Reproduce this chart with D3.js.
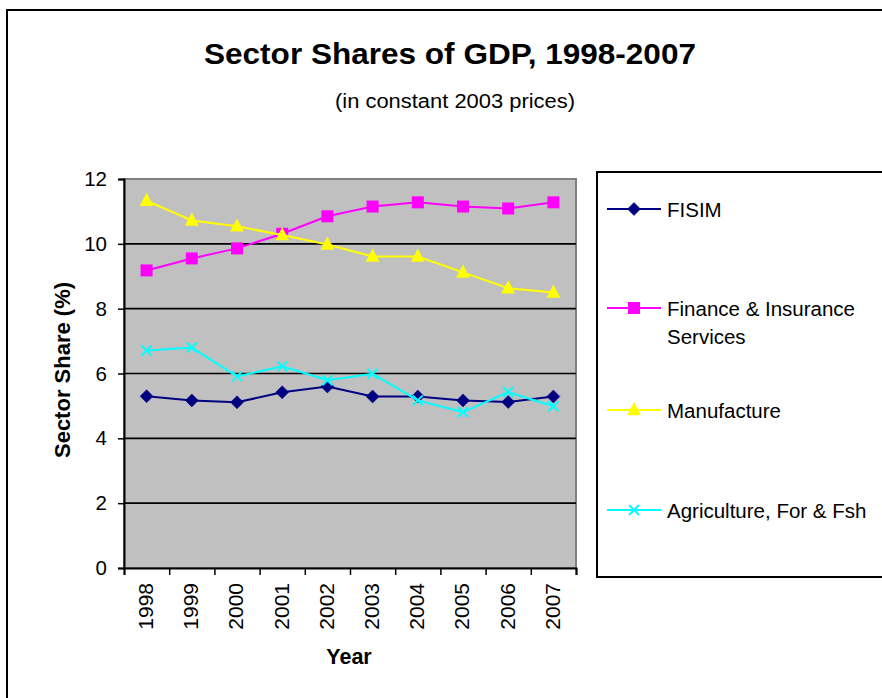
<!DOCTYPE html>
<html>
<head>
<meta charset="utf-8">
<script src="https://cdn.jsdelivr.net/npm/d3@7"></script>
<style>
  html, body { margin: 0; padding: 0; background: #fff; }
  svg { display: block; }
  text { font-family: "Liberation Sans", Arial, sans-serif; fill: #000; }
</style>
</head>
<body>
<svg id="chart" width="882" height="698"></svg>
<script>
const years = ["1998","1999","2000","2001","2002","2003","2004","2005","2006","2007"];
const fisim = [5.30, 5.17, 5.11, 5.42, 5.60, 5.29, 5.29, 5.17, 5.12, 5.29];
const finance = [9.18, 9.55, 9.86, 10.31, 10.85, 11.15, 11.28, 11.15, 11.09, 11.28];
const manufacture = [11.33, 10.72, 10.54, 10.27, 9.98, 9.61, 9.61, 9.12, 8.63, 8.50];
const agriculture = [6.71, 6.80, 5.91, 6.22, 5.79, 5.99, 5.17, 4.81, 5.43, 4.99];
const yTicks = [0, 2, 4, 6, 8, 10, 12];
const seriesNames = ["FISIM", "Finance & Insurance\nServices", "Manufacture", "Agriculture, For & Fsh"];

const series = [
  { name: seriesNames[0], values: fisim, color: "#000080", marker: "diamond" },
  { name: seriesNames[1], values: finance, color: "#FF00FF", marker: "square" },
  { name: seriesNames[2], values: manufacture, color: "#FFFF00", marker: "triangle" },
  { name: seriesNames[3], values: agriculture, color: "#00FFFF", marker: "x" }
];

const svg = d3.select("#chart");
const plot = { left: 124, top: 179, right: 576, bottom: 568 };

// outer chart border
svg.append("rect").attr("x", 7).attr("y", 10).attr("width", 900).attr("height", 720)
  .attr("fill", "#fff").attr("stroke", "#000").attr("stroke-width", 2);

// titles
svg.append("text").attr("x", 450).attr("y", 64).attr("text-anchor", "middle")
  .attr("font-size", 30).attr("font-weight", "bold")
  .attr("textLength", 492).attr("lengthAdjust", "spacingAndGlyphs")
  .text("Sector Shares of GDP, 1998-2007");
svg.append("text").attr("x", 455).attr("y", 108).attr("text-anchor", "middle")
  .attr("font-size", 20)
  .attr("textLength", 240).attr("lengthAdjust", "spacingAndGlyphs")
  .text("(in constant 2003 prices)");

const x = d3.scaleBand().domain(years).range([plot.left, plot.right]).padding(0);
const xEdge = d3.scaleLinear().domain([0, years.length]).range([plot.left, plot.right]);
const y = d3.scaleLinear().domain([0, 12]).range([plot.bottom, plot.top]);

// plot background
svg.append("rect").attr("x", plot.left).attr("y", plot.top)
  .attr("width", plot.right - plot.left).attr("height", plot.bottom - plot.top)
  .attr("fill", "#C0C0C0").attr("stroke", "#808080").attr("stroke-width", 2);

// gridlines
svg.append("g").selectAll("line").data(yTicks.filter(t => t > 0 && t < 12)).join("line")
  .attr("x1", plot.left).attr("x2", plot.right)
  .attr("y1", d => y(d)).attr("y2", d => y(d))
  .attr("stroke", "#000").attr("stroke-width", 1.6);

// y axis
const yAxis = svg.append("g").attr("transform", `translate(${plot.left},0)`)
  .call(d3.axisLeft(y).tickValues(yTicks).tickSize(6).tickPadding(11).tickFormat(d3.format("d")));
yAxis.select(".domain").attr("stroke", "#000").attr("stroke-width", 2);
yAxis.selectAll(".tick line").attr("stroke", "#000").attr("stroke-width", 1.5);
yAxis.selectAll(".tick text").attr("font-size", 20.5).attr("font-family", "Liberation Sans, Arial, sans-serif").attr("fill", "#000");

// x axis ticks at band edges
const xAxis = svg.append("g").attr("transform", `translate(0,${plot.bottom})`)
  .call(d3.axisBottom(xEdge).tickValues(d3.range(0, years.length + 1)).tickSize(7).tickFormat(""));
xAxis.select(".domain").attr("stroke", "#000").attr("stroke-width", 2);
xAxis.selectAll(".tick line").attr("stroke", "#000").attr("stroke-width", 1.5);

// x labels
const xLab = svg.append("g").attr("transform", `translate(0,${plot.bottom})`)
  .call(d3.axisBottom(x).tickSize(0).tickPadding(0));
xLab.select(".domain").remove();
xLab.selectAll(".tick text")
  .attr("font-size", 21).attr("font-family", "Liberation Sans, Arial, sans-serif").attr("fill", "#000")
  .attr("text-anchor", "end")
  .attr("transform", "translate(-1,15) rotate(-90)")
  .attr("x", 0).attr("y", 0).attr("dy", "0.35em");

// axis titles
svg.append("text").attr("transform", "translate(70,370) rotate(-90)")
  .attr("text-anchor", "middle").attr("font-size", 22).attr("font-weight", "bold")
  .text("Sector Share (%)");
svg.append("text").attr("x", 349).attr("y", 664).attr("text-anchor", "middle")
  .attr("font-size", 21.5).attr("font-weight", "bold").text("Year");

// markers
function drawMarker(g, type, color, cx, cy, s) {
  if (type === "diamond") {
    g.append("path").attr("d", `M${cx},${cy - s}L${cx + s},${cy}L${cx},${cy + s}L${cx - s},${cy}Z`)
      .attr("fill", color).attr("stroke", color).attr("stroke-width", 0.5);
  } else if (type === "square") {
    g.append("rect").attr("x", cx - s).attr("y", cy - s).attr("width", 2 * s).attr("height", 2 * s)
      .attr("fill", color);
  } else if (type === "triangle") {
    const h = s * 2.1;
    g.append("path").attr("d", `M${cx},${cy - h * 0.6}L${cx + s * 1.1},${cy + h * 0.4}L${cx - s * 1.1},${cy + h * 0.4}Z`)
      .attr("fill", color);
  } else if (type === "x") {
    g.append("path").attr("d", `M${cx - s},${cy - s}L${cx + s},${cy + s}M${cx - s},${cy + s}L${cx + s},${cy - s}`)
      .attr("stroke", color).attr("stroke-width", 2).attr("fill", "none");
  }
}
const markerSize = { diamond: 6.5, square: 6, triangle: 6.3, x: 5 };

const line = d3.line().x((d, i) => x(years[i]) + x.bandwidth() / 2).y(d => y(d));
series.forEach(s => {
  const g = svg.append("g");
  g.append("path").datum(s.values).attr("d", line)
    .attr("fill", "none").attr("stroke", s.color).attr("stroke-width", 2);
  s.values.forEach((v, i) => drawMarker(g, s.marker, s.color, x(years[i]) + x.bandwidth() / 2, y(v), markerSize[s.marker]));
});

// legend
const legend = svg.append("g");
legend.append("rect").attr("x", 597).attr("y", 172).attr("width", 320).attr("height", 405)
  .attr("fill", "#fff").attr("stroke", "#000").attr("stroke-width", 2);
const legendY = [209, 308, 410, 510];
series.forEach((s, i) => {
  const ly = legendY[i];
  legend.append("line").attr("x1", 607).attr("x2", 661).attr("y1", ly).attr("y2", ly)
    .attr("stroke", s.color).attr("stroke-width", 2);
  drawMarker(legend, s.marker, s.color, 634, ly, markerSize[s.marker]);
  const t = legend.append("text").attr("x", 667).attr("y", ly + 8).attr("font-size", 20.5);
  s.name.split("\n").forEach((part, k) => {
    t.append("tspan").attr("x", 667).attr("dy", k === 0 ? 0 : 28).text(part);
  });
});
</script>
</body>
</html>
